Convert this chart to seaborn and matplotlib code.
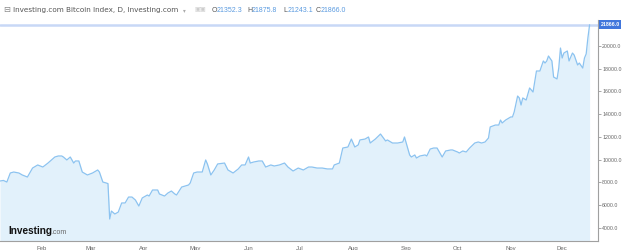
import matplotlib
matplotlib.use("Agg")
import matplotlib.pyplot as plt
import matplotlib.dates as mdates
import matplotlib.transforms as mtransforms
import seaborn as sns
import pandas as pd

dates = ["2020-01-08","2020-01-10","2020-01-12","2020-01-14","2020-01-16","2020-01-19","2020-01-21","2020-01-24","2020-01-27","2020-01-30",
         "2020-02-02","2020-02-05","2020-02-07","2020-02-09","2020-02-11","2020-02-13","2020-02-14","2020-02-16","2020-02-18","2020-02-20",
         "2020-02-21","2020-02-23","2020-02-25","2020-02-28","2020-03-02","2020-03-05","2020-03-06","2020-03-08","2020-03-10","2020-03-11",
         "2020-03-12","2020-03-13","2020-03-15","2020-03-17","2020-03-19","2020-03-21","2020-03-23","2020-03-25","2020-03-27","2020-03-29",
         "2020-03-31","2020-04-03","2020-04-04","2020-04-06","2020-04-09","2020-04-10","2020-04-13","2020-04-15","2020-04-17","2020-04-19",
         "2020-04-20","2020-04-23","2020-04-27","2020-04-28","2020-04-30","2020-05-02","2020-05-05","2020-05-07","2020-05-08","2020-05-10",
         "2020-05-12","2020-05-14","2020-05-18","2020-05-20","2020-05-23","2020-05-26","2020-05-28","2020-05-30","2020-06-01","2020-06-02",
         "2020-06-04","2020-06-07","2020-06-09","2020-06-11","2020-06-14","2020-06-16","2020-06-19","2020-06-22","2020-06-24","2020-06-27",
         "2020-06-30","2020-07-03","2020-07-06","2020-07-08","2020-07-11","2020-07-14","2020-07-17","2020-07-20","2020-07-21","2020-07-24",
         "2020-07-26","2020-07-29","2020-07-31","2020-08-02","2020-08-04","2020-08-05","2020-08-08","2020-08-10","2020-08-11","2020-08-14",
         "2020-08-17","2020-08-20","2020-08-21","2020-08-24","2020-08-27","2020-08-30","2020-08-31","2020-09-01","2020-09-03","2020-09-04",
         "2020-09-06","2020-09-07","2020-09-09","2020-09-12","2020-09-13","2020-09-15","2020-09-17","2020-09-19","2020-09-21","2020-09-22",
         "2020-09-24","2020-09-27","2020-09-28","2020-10-01","2020-10-02","2020-10-04","2020-10-06","2020-10-08","2020-10-11","2020-10-13",
         "2020-10-15","2020-10-17","2020-10-19","2020-10-20","2020-10-23","2020-10-25","2020-10-26","2020-10-27","2020-10-29","2020-11-01",
         "2020-11-02","2020-11-03","2020-11-05","2020-11-06","2020-11-07","2020-11-08","2020-11-10","2020-11-12","2020-11-13","2020-11-14",
         "2020-11-16","2020-11-18","2020-11-20","2020-11-21","2020-11-22","2020-11-23","2020-11-25","2020-11-26","2020-11-28","2020-11-29",
         "2020-11-30","2020-12-01","2020-12-02","2020-12-04","2020-12-05","2020-12-07","2020-12-08","2020-12-10","2020-12-11","2020-12-13",
         "2020-12-14","2020-12-15","2020-12-16","2020-12-17"]
prices = [8130,8180,8040,8835,8920,8835,8660,8480,9270,9540,
          9360,9710,9980,10240,10330,10330,10240,9980,10240,9710,
          9890,9890,8920,8660,8835,9100,8920,8040,7955,7900,
          4790,5490,5230,5400,6200,6200,6720,6720,6460,5930,
          6640,6900,6810,7340,7340,6990,6810,7080,7250,6990,
          6900,7600,7780,7960,8835,8920,8920,9980,9630,8660,
          9100,9630,9710,9100,8835,9190,9540,9540,10240,9710,
          9800,9890,9890,9360,9540,9450,9540,9710,9360,9010,
          9270,9100,9360,9360,9270,9270,9190,9190,9540,9710,
          11030,11120,11820,11120,11300,11740,11820,12000,11470,11820,
          12260,11650,11740,11470,11470,11560,12000,11470,10420,10240,
          10420,10150,10330,10420,10330,10940,11030,11030,10500,10240,
          10770,10860,10860,10680,10590,10770,10680,11030,11470,11560,
          11470,11560,11910,12880,13050,13050,13490,13230,13490,13760,
          13760,14200,15600,15430,14810,15430,15250,16310,16130,15950,
          17800,17800,18680,18500,18680,19120,18680,17270,17100,18060,
          19820,18940,19380,19560,18680,19380,19200,18330,18500,18060,
          18940,19300,20700,21866]
y_ticks = [4000, 6000, 8000, 10000, 12000, 14000, 16000, 18000, 20000]
title_text = "Investing.com Bitcoin Index, D, Investing.com"
ohlc_labels = ["O", "H", "L", "C"]
ohlc_values = ["21352.3", "21875.8", "21243.1", "21866.0"]
last_price = 21866.0

df = pd.DataFrame({"date": pd.to_datetime(dates), "price": prices})

sns.set_theme(style="white")
plt.rcParams["font.family"] = ["DejaVu Sans"]

W, H = 622, 250
fig = plt.figure(figsize=(W / 100, H / 100), dpi=100)
fig.patch.set_facecolor("white")
ax = fig.add_axes([0.0, 9 / H, 598 / W, 221 / H])

line_c = "#8cc3f0"
fill_c = "#e2f1fb"
ax.fill_between(df["date"], df["price"], 0, color=fill_c, lw=0, zorder=1)
sns.lineplot(data=df, x="date", y="price", ax=ax, color=line_c, lw=0.9, zorder=3)

ax.set_ylim(2857, 22283)
x0 = pd.Timestamp("2020-01-08")
ax.set_xlim(x0, x0 + pd.Timedelta(days=348.9))

ax.axhline(last_price, color="#c8d8f6", lw=1.8, zorder=2)

# axes styling
for s in ["top", "left"]:
    ax.spines[s].set_visible(False)
for s in ["right", "bottom"]:
    ax.spines[s].set_color("#a0a0a0")
    ax.spines[s].set_linewidth(0.8)
ax.yaxis.tick_right()
ax.set_yticks(y_ticks)
ax.yaxis.set_major_formatter(matplotlib.ticker.FormatStrFormatter("%.1f"))
ax.xaxis.set_major_locator(mdates.MonthLocator())
ax.xaxis.set_major_formatter(mdates.DateFormatter("%b"))
ax.tick_params(axis="x", which="major", length=2, width=0.6, color="#9a9a9a",
               labelsize=4.3, labelcolor="#666666", pad=1.5)
ax.tick_params(axis="y", which="major", length=2, width=0.6, color="#9a9a9a",
               labelsize=3.8, labelcolor="#666666", pad=1.0)
for lab in ax.get_xticklabels() + ax.get_yticklabels():
    lab.set_fontfamily("Liberation Sans")
ax.set_xlabel("")
ax.set_ylabel("")
ax.grid(False)

# current price tag
trans = mtransforms.blended_transform_factory(ax.transAxes, ax.transData)
ax.text(1.004, last_price, f"{last_price:.1f}", transform=trans, ha="left", va="center",
        fontsize=3.8, color="white", fontweight="bold", family="Liberation Sans",
        bbox=dict(boxstyle="square,pad=0.35", fc="#4176dc", ec="none"), clip_on=False, zorder=5)

# header
def ftext(px, py, s, **kw):
    fig.text(px / W, 1 - py / H, s, va="center", **kw)

ftext(3, 10, "⊟", fontsize=6, color="#888888")
ftext(13, 10, title_text, fontsize=5.2, color="#555555")
ftext(183, 10.5, "▾", fontsize=4, color="#aaaaaa")
ftext(194, 10, "▣▣", fontsize=4.5, color="#cccccc")
xs = [212, 247, 283, 316]
for xp, lab, val in zip(xs, ohlc_labels, ohlc_values):
    ftext(xp, 10, lab, fontsize=5.0, color="#555555", family="Liberation Sans")
    ftext(xp + 5, 10, val, fontsize=5.0, color="#5b9be0", family="Liberation Sans")

# logo
ftext(8, 231, "Investing", fontsize=7.2, fontweight="bold", color="#111111",
      family="Liberation Sans")
ftext(51.5, 232, ".com", fontsize=5, color="#666666", family="Liberation Sans")

fig.savefig("out.png", dpi=100, facecolor="white")
